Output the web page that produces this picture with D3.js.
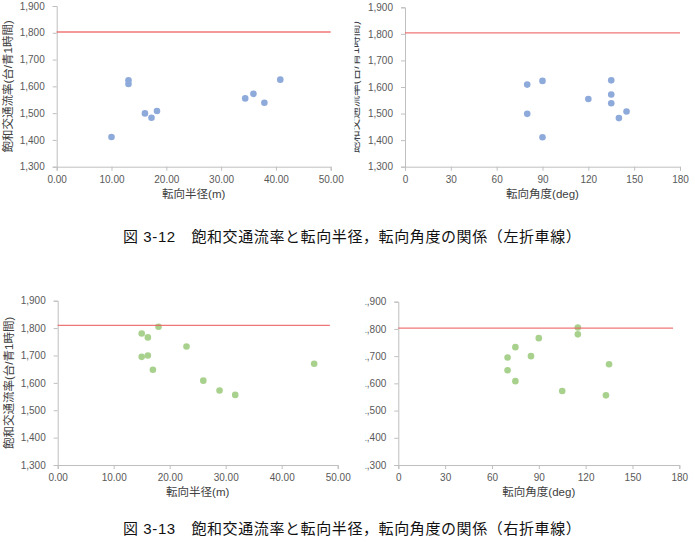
<!DOCTYPE html>
<html>
<head>
<meta charset="utf-8">
<script src="https://cdn.jsdelivr.net/npm/d3@7"></script>
<style>
  body { margin: 0; background: #fff; }
  svg { display: block; }
  .ttl { font-family: "Liberation Sans", "Noto Sans CJK JP", sans-serif; font-size: 11.5px; fill: #404040; }
  .cap { font-family: "Liberation Sans", "Noto Sans CJK JP", sans-serif; font-size: 15px; fill: #111; letter-spacing: 0.6px; }
</style>
</head>
<body>
<div id="chart"></div>
<script>
// left-turn lanes
var leftRadius = [10.0, 13.1, 13.1, 16.1, 17.3, 18.3, 34.4, 35.9, 37.9, 40.8];
var leftAngle  = [90, 90, 80, 80, 140, 145, 120, 135, 135, 135];
var leftFlow   = [1411, 1623, 1609, 1499, 1483, 1508, 1555, 1572, 1539, 1625];

// right-turn lanes
var rightRadius = [15.0, 16.1, 18.0, 15.0, 16.1, 17.0, 23.0, 26.0, 28.9, 31.7, 45.8];
var rightAngle  = [115, 90, 115, 70, 85, 70, 75, 75, 105, 133, 135];
var rightFlow   = [1780, 1766, 1805, 1695, 1700, 1648, 1733, 1608, 1572, 1556, 1670];

// reference line per panel (value, x end)
var refFlow = [1803, 1804, 1810, 1803];
var refEnd  = [50, 180, 48.6, 176];

var radiusTicks = [0, 10, 20, 30, 40, 50];
var angleTicks  = [0, 30, 60, 90, 120, 150, 180];
var flowTicks   = [1300, 1400, 1500, 1600, 1700, 1800, 1900];

var yTitle = "飽和交通流率(台/青1時間)";
var captions = ["図 3-12　飽和交通流率と転向半径，転向角度の関係（左折車線）",
                "図 3-13　飽和交通流率と転向半径，転向角度の関係（右折車線）"];

var blue = "#8eaadb", green = "#a9d18e", red = "#ec5f5f", axisCol = "#bfbfbf";

var svg = d3.select("#chart").append("svg")
  .attr("width", 695).attr("height", 542);

var panels = [
  {x0: 56.7, x1: 330.7, y0: 6, y1: 166.7, xs: leftRadius, ys: leftFlow, dom: [0, 50], ticks: radiusTicks, fmt: d3.format(".2f"), xt: "転向半径(m)", col: blue, clip: null, ytx: 12},
  {x0: 405, x1: 680, y0: 7.3, y1: 166.7, xs: leftAngle, ys: leftFlow, dom: [0, 180], ticks: angleTicks, fmt: d3.format("d"), xt: "転向角度(deg)", col: blue, clip: 354.5, ytx: 359},
  {x0: 57.7, x1: 337.7, y0: 300.7, y1: 465, xs: rightRadius, ys: rightFlow, dom: [0, 50], ticks: radiusTicks, fmt: d3.format(".2f"), xt: "転向半径(m)", col: green, clip: null, ytx: 13},
  {x0: 398.3, x1: 679.3, y0: 301.7, y1: 465, xs: rightAngle, ys: rightFlow, dom: [0, 180], ticks: angleTicks, fmt: d3.format("d"), xt: "転向角度(deg)", col: green, clip: 365.5, ytx: null}
];

panels.forEach(function(p, k) {
  var x = d3.scaleLinear().domain(p.dom).range([p.x0, p.x1]);
  var y = d3.scaleLinear().domain([1300, 1900]).range([p.y1, p.y0]);

  var g = svg.append("g");
  if (p.clip !== null) {
    svg.append("clipPath").attr("id", "clip" + k)
      .append("rect").attr("x", p.clip).attr("y", p.y0 - 15)
      .attr("width", 695 - p.clip).attr("height", p.y1 - p.y0 + 60);
    g.attr("clip-path", "url(#clip" + k + ")");
  }

  var xa = g.append("g").attr("transform", "translate(0," + p.y1 + ")")
    .call(d3.axisBottom(x).tickValues(p.ticks).tickFormat(p.fmt).tickSizeOuter(0).tickSize(4).tickPadding(5));
  var ya = g.append("g").attr("transform", "translate(" + p.x0 + ",0)")
    .call(d3.axisLeft(y).tickValues(flowTicks).tickFormat(d3.format(",")).tickSizeOuter(0).tickSize(4).tickPadding(8));
  [xa, ya].forEach(function(a) {
    a.attr("font-family", "'Liberation Sans', Arial, sans-serif").attr("font-size", 10);
    a.select(".domain").attr("stroke", axisCol);
    a.selectAll(".tick line").attr("stroke", axisCol);
    a.selectAll(".tick text").attr("fill", "#595959");
  });

  g.selectAll("circle.pt").data(p.xs).enter().append("circle")
    .attr("class", "pt")
    .attr("cx", function(d) { return x(d); })
    .attr("cy", function(d, i) { return y(p.ys[i]); })
    .attr("r", 3.3)
    .attr("fill", p.col);

  g.append("line")
    .attr("x1", x(0)).attr("x2", x(refEnd[k]))
    .attr("y1", y(refFlow[k])).attr("y2", y(refFlow[k]))
    .attr("stroke", red).attr("stroke-width", 1.3).attr("stroke-opacity", 0.85);

  g.append("text").attr("class", "ttl")
    .attr("x", (p.x0 + p.x1) / 2).attr("y", p.y1 + 31)
    .attr("text-anchor", "middle").text(p.xt);

  if (p.ytx !== null) {
    var cy = (p.y0 + p.y1) / 2;
    g.append("text").attr("class", "ttl")
      .attr("transform", "translate(" + p.ytx + "," + cy + ") rotate(-90)")
      .attr("text-anchor", "middle").text(yTitle);
  }
});

svg.selectAll("text.cap").data(captions).enter().append("text")
  .attr("class", "cap")
  .attr("x", 123)
  .attr("y", function(d, i) { return i === 0 ? 242 : 534; })
  .text(function(d) { return d; });
</script>
</body>
</html>
